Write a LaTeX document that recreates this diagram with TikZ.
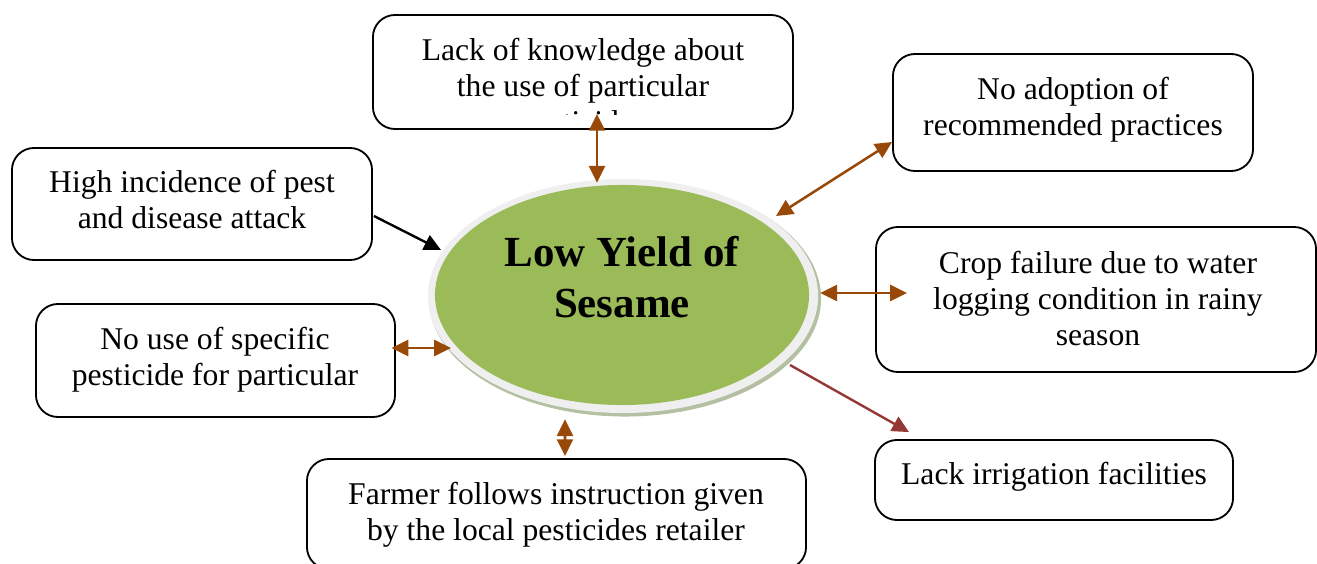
\documentclass[tikz,border=0pt]{standalone}
\usepackage{fontspec}
\setmainfont{Liberation Serif}
\usetikzlibrary{arrows.meta,shapes.geometric}
\definecolor{brn}{HTML}{984807}
\definecolor{rd}{HTML}{953735}
\definecolor{grn}{HTML}{9BBB59}
\definecolor{ringc}{HTML}{EFEFEF}
\definecolor{shd}{HTML}{B3C0A2}
\begin{document}
\begin{tikzpicture}[x=0.025cm,y=-0.025cm,
  box/.style={draw,line width=1.3pt,rounded corners=0.55cm,inner sep=0pt},
  txt/.style={align=center,font=\fontsize{22.5}{25.6}\selectfont,inner sep=0pt},
  ttl/.style={align=center,font=\fontsize{30.5}{35.6}\selectfont\bfseries,inner sep=0pt},
  tip/.style={Triangle[length=0.42cm,width=0.4cm]},
  link/.style={line width=1.8pt,brn,{Triangle[length=0.42cm,width=0.4cm]}-{Triangle[length=0.42cm,width=0.4cm]}},
  onelink/.style={line width=1.7pt,-{Triangle[length=0.42cm,width=0.4cm]}},
  blob/.style={ellipse,inner sep=0pt}]
\useasboundingbox (0,0) rectangle (1317,564);
% central ellipse
\node[blob,fill=shd,minimum width=9.8cm,minimum height=5.9cm] (shadow) at (625,298.5) {};
\node[blob,fill=ringc,minimum width=9.75cm,minimum height=5.85cm] (ring) at (623,296) {};
\node[blob,fill=grn,minimum width=9.35cm,minimum height=5.5cm] (ell) at (622,295) {};
\node[ttl] (title) at (622,282) {\strut Low Yield of\\\strut Sesame};
% boxes
\node[box,minimum width=10.5cm,minimum height=2.85cm] (b1) at (583,72) {};
\begin{scope}
\clip (373,15) rectangle (793,115);
\node[txt] (t1) at (583,89) {\strut Lack of knowledge about\\\strut the use of particular\\\strut pesticides};
\end{scope}
\node[box,minimum width=9cm,minimum height=2.925cm] (b2) at (1073,112.5) {};
\node[txt] (t2) at (1073,110.5) {\strut No adoption of\\\strut recommended practices};
\node[box,minimum width=9cm,minimum height=2.8cm] (b3) at (192,204) {};
\node[txt] (t3) at (192,203) {\strut High incidence of pest\\\strut and disease attack};
\node[box,minimum width=11cm,minimum height=3.625cm] (b4) at (1096,299.5) {};
\node[txt] (t4) at (1098,302.5) {\strut Crop failure due to water\\\strut logging condition in rainy\\\strut season};
\node[box,minimum width=8.975cm,minimum height=2.825cm] (b5) at (215.5,360.5) {};
\node[txt] (t5) at (215,360.5) {\strut No use of specific\\\strut pesticide for particular};
\node[box,minimum width=12.475cm,minimum height=2.75cm] (b6) at (556.5,514) {};
\node[txt] (t6) at (556,515.5) {\strut Farmer follows instruction given\\\strut by the local pesticides retailer};
\node[box,minimum width=8.95cm,minimum height=2cm] (b7) at (1054,480) {};
\node[txt] (t7) at (1054,477) {\strut Lack irrigation facilities};
% connectors
\draw[link] ([shift={(14,-16)}]b1.south) -- ([shift={(-25,-2)}]ell.north);
\draw[link] ([shift={(0,29.5)}]b2.west) -- ([shift={(154,-79)}]ell.center);
\draw[onelink,black] ([shift={(1,12)}]b3.east) -- ([shift={(-181,-45)}]ell.center);
\draw[link] ([shift={(11,-2)}]ell.east) -- ([shift={(32,-6.5)}]b4.west);
\draw[link] ([shift={(-4.5,-12.5)}]b5.east) -- ([shift={(-171,53)}]ell.center);
\draw[link] ([shift={(-57,14)}]ell.south) -- ([shift={(8.5,-2)}]b6.north);
\draw[onelink,rd] ([shift={(168,70)}]ell.center) -- ([shift={(-145,-7)}]b7.north);
\end{tikzpicture}
\end{document}
